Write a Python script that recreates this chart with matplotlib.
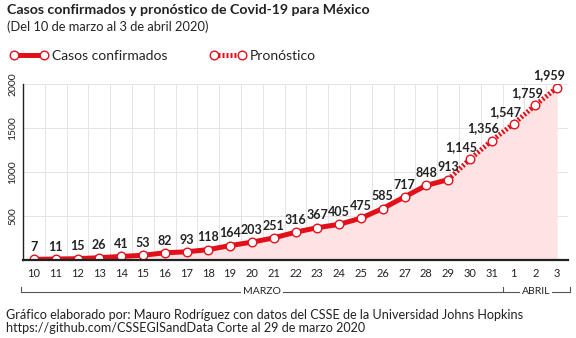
import matplotlib
matplotlib.use("Agg")
import matplotlib.pyplot as plt
from matplotlib import font_manager
from matplotlib.lines import Line2D
from matplotlib.transforms import blended_transform_factory

# Daily confirmed cases (10–29 March) and forecast (30 March – 3 April)
dias = ["10", "11", "12", "13", "14", "15", "16", "17", "18", "19", "20", "21",
        "22", "23", "24", "25", "26", "27", "28", "29", "30", "31", "1", "2", "3"]
confirmados = [7, 11, 15, 26, 41, 53, 82, 93, 118, 164, 203, 251, 316, 367,
               405, 475, 585, 717, 848, 913]
pronostico = [1145, 1356, 1547, 1759, 1959]
yticks = [500, 1000, 1500, 2000]
meses = ["MARZO", "ABRIL"]

installed = {f.name for f in font_manager.fontManager.ttflist}
base_font = "Lato" if "Lato" in installed else "DejaVu Sans"
plt.rcParams["font.family"] = [base_font, "DejaVu Sans"]

ROJO = "#e2101b"
ROSA = "#fde3e3"
TEXTO = "#222222"

fig = plt.figure(figsize=(5.76, 3.38), dpi=100)
ax = fig.add_axes([23 / 576, 1 - 260 / 338, (568 - 23) / 576, 176 / 338])

n_conf = len(confirmados)
x_all = list(range(len(dias)))
y_all = confirmados + pronostico
x_conf = x_all[:n_conf]
x_pron = x_all[n_conf - 1:]
y_pron = [confirmados[-1]] + pronostico

# shaded area under the whole series
ax.fill_between(x_all, 0, y_all, color=ROSA, lw=0, zorder=1)

# forecast: striped thick line
ax.plot(x_pron, y_pron, color=ROJO, lw=3.6, linestyle=(0, (0.4, 0.4)),
        dash_capstyle="butt", zorder=3)
# confirmed: solid thick line
ax.plot(x_conf, confirmados, color=ROJO, lw=3.6, solid_capstyle="round", zorder=4)
# hollow markers on every point
ax.plot(x_all, y_all, linestyle="none", marker="o", ms=6.2, mfc="white",
        mec=ROJO, mew=1.0, zorder=5)

# value labels
for i, v in enumerate(y_all):
    dx = 0 if i < n_conf else -6
    ax.annotate(f"{v:,}", (i, v), xytext=(dx, 4.5), textcoords="offset points",
                ha="center", va="bottom", fontsize=9, fontweight="bold",
                color=TEXTO, zorder=6)

# grid
for k in range(len(dias) - 1):
    ax.axvline(k + 0.5, color="#e4e4e4", lw=0.7, zorder=0)
for t in yticks:
    ax.axhline(t, color="#e4e4e4", lw=0.7, zorder=0)

ax.set_xlim(-0.5, len(dias) - 0.5)
ax.set_ylim(0, 2000)
ax.set_xticks(x_all)
ax.set_xticklabels(dias, fontsize=8, color=TEXTO)
ax.set_yticks(yticks)
ax.set_yticklabels([str(t) for t in yticks], rotation=90, va="center",
                   fontsize=7.5, color=TEXTO)
ax.tick_params(axis="both", length=0)
ax.tick_params(axis="x", pad=6)
ax.tick_params(axis="y", pad=4)
for s in ("top", "right"):
    ax.spines[s].set_visible(False)
ax.spines["bottom"].set_color(TEXTO)
ax.spines["bottom"].set_linewidth(1.6)
ax.spines["left"].set_color(TEXTO)
ax.spines["left"].set_linewidth(1.0)
ax.spines["bottom"].set_zorder(7)

# month brackets below the day labels
tr = blended_transform_factory(ax.transData, fig.transFigure)
y_line = 1 - 291.5 / 338
y_tick = 1 - 286.5 / 338
bordes = [-0.58, 21.5, 24.57]
brk = dict(color="#555555", lw=0.8, transform=tr, clip_on=False)
fig.add_artist(Line2D([bordes[0], bordes[2]], [y_line, y_line], **brk))
for b in bordes:
    fig.add_artist(Line2D([b, b], [y_line, y_tick], **brk))
for mes, a, b in zip(meses, bordes[:-1], bordes[1:]):
    fig.text((a + b) / 2, y_line, mes, transform=tr, ha="center", va="center",
             fontsize=7.5, color=TEXTO,
             bbox=dict(facecolor="white", edgecolor="none", pad=1.5))

# legend: one entry per box so each sits at its own place
h_conf = Line2D([], [], color=ROJO, lw=3.6, marker="o", ms=6.2, mfc="white",
                mec=ROJO, mew=1.0)
h_pron = Line2D([], [], color=ROJO, lw=3.6, linestyle=(0, (0.4, 0.4)),
                dash_capstyle="butt", marker="o", ms=6.2, mfc="white",
                mec=ROJO, mew=1.0)
leg_kw = dict(loc="center left", frameon=False, numpoints=2,
              handletextpad=0.25, fontsize=10, labelcolor=TEXTO,
              borderaxespad=0, borderpad=0)
fig.legend([h_conf], ["Casos confirmados"], handlelength=2.75,
           bbox_to_anchor=(10 / 576, 1 - 56 / 338), **leg_kw)
fig.legend([h_pron], ["Pronóstico"], handlelength=2.6,
           bbox_to_anchor=(210 / 576, 1 - 56 / 338), **leg_kw)

# titles and credits
fig.text(7 / 576, 1 - 10 / 338, "Casos confirmados y pronóstico de Covid-19 para México",
         fontsize=10.2, fontweight="bold", color=TEXTO, va="center")
fig.text(7 / 576, 1 - 27 / 338, "(Del 10 de marzo al 3 de abril 2020)",
         fontsize=9.3, color=TEXTO, va="center")
fig.text(6 / 576, 1 - 315 / 338,
         "Gráfico elaborado por: Mauro Rodríguez con datos del CSSE de la Universidad Johns Hopkins",
         fontsize=9.1, color=TEXTO, va="center")
fig.text(6 / 576, 1 - 328 / 338,
         "https://github.com/CSSEGISandData Corte al 29 de marzo 2020",
         fontsize=9.1, color=TEXTO, va="center")

fig.savefig("out.png", dpi=100, facecolor="white")
